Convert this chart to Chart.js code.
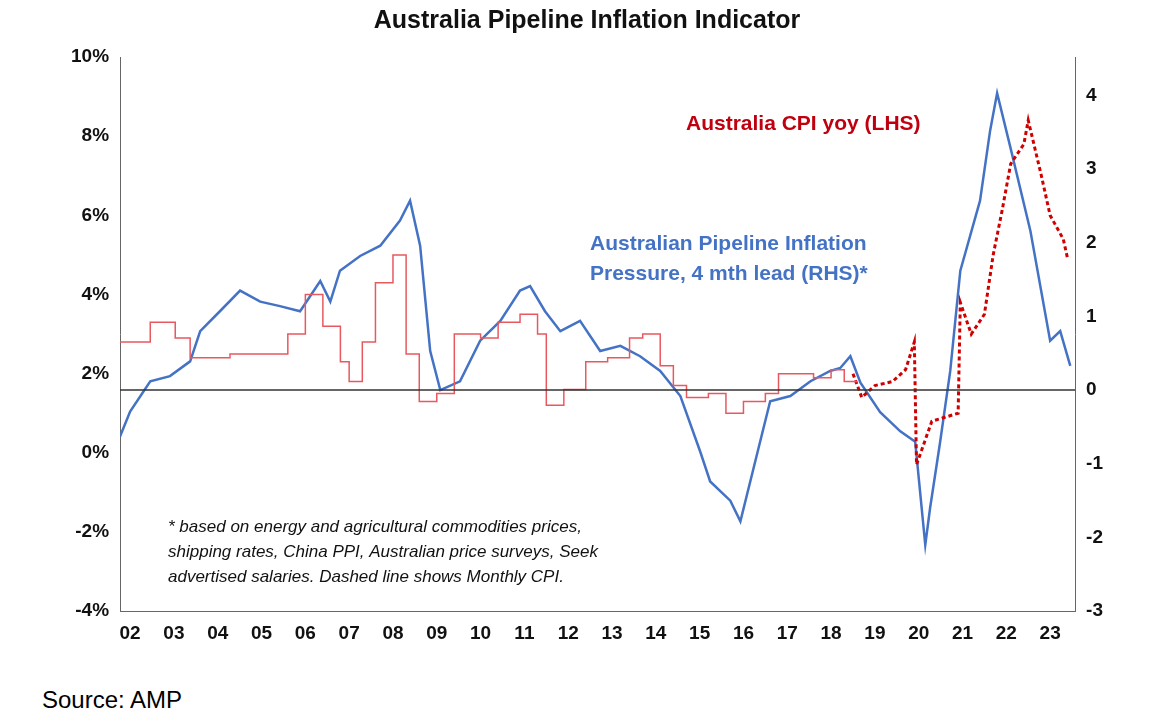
<!DOCTYPE html>
<html><head><meta charset="utf-8">
<script src="https://cdn.jsdelivr.net/npm/chart.js@4"></script>
<style>body{margin:0;background:#fff;font-family:Arial,"Liberation Sans",sans-serif}
#wrap{position:relative;width:1163px;height:728px}
#src{position:absolute;left:42px;top:686px;font-size:24px}</style></head>
<body><div id="wrap"><canvas id="c" width="1163" height="680"></canvas><div id="src">Source: AMP</div></div>
<script>
// Pipeline pressure (RHS), [year, value]
const pipeYears = [2001.77,2002.0,2002.46,2002.91,2003.37,2003.6,2004.05,2004.51,2004.97,2005.42,2005.88,2006.34,2006.57,2006.79,2007.25,2007.71,2008.16,2008.39,2008.62,2008.85,2009.08,2009.53,2009.99,2010.45,2010.9,2011.13,2011.47,2011.82,2012.27,2012.73,2013.19,2013.64,2014.1,2014.56,2015.01,2015.24,2015.7,2015.93,2016.38,2016.61,2017.07,2017.53,2017.98,2018.21,2018.44,2018.67,2019.12,2019.58,2019.92,2020.15,2020.26,2020.49,2020.72,2020.95,2021.4,2021.63,2021.79,2022.09,2022.55,2023.0,2023.23,2023.46];
const pipeValues = [-0.63,-0.29,0.12,0.19,0.39,0.8,1.07,1.35,1.2,1.14,1.07,1.48,1.2,1.62,1.82,1.96,2.3,2.57,1.96,0.53,0.0,0.12,0.67,0.94,1.35,1.41,1.07,0.8,0.94,0.53,0.6,0.46,0.26,-0.08,-0.83,-1.24,-1.5,-1.78,-0.7,-0.15,-0.08,0.12,0.26,0.3,0.46,0.1,-0.3,-0.56,-0.7,-2.1,-1.6,-0.7,0.26,1.62,2.57,3.52,4.03,3.3,2.16,0.67,0.8,0.33];
// Quarterly CPI yoy (LHS), step line
const cpiYears = [2001.77,2002.46,2003.03,2003.37,2004.28,2005.6,2006.0,2006.4,2006.8,2007.0,2007.3,2007.6,2008.0,2008.3,2008.6,2009.0,2009.4,2010.0,2010.4,2010.9,2011.3,2011.5,2011.9,2012.4,2012.9,2013.4,2013.7,2014.1,2014.4,2014.7,2015.2,2015.6,2016.0,2016.5,2016.8,2017.6,2018.0,2018.3,2018.6];
const cpiValues = [2.8,3.3,2.9,2.4,2.5,3.0,4.0,3.2,2.3,1.8,2.8,4.3,5.0,2.5,1.3,1.5,3.0,2.9,3.3,3.5,3.0,1.2,1.6,2.3,2.4,2.9,3.0,2.2,1.7,1.4,1.5,1.0,1.3,1.5,2.0,1.9,2.1,1.8,1.8];
// Monthly CPI (dashed)
const mcpiYears = [2018.5,2018.7,2019.0,2019.4,2019.7,2019.9,2019.95,2020.3,2020.6,2020.9,2020.95,2021.2,2021.5,2021.7,2021.9,2022.1,2022.4,2022.5,2022.8,2023.0,2023.3,2023.4];
const mcpiValues = [2.0,1.4,1.7,1.8,2.1,2.8,-0.3,0.8,0.9,1.0,3.8,3.0,3.5,5.0,6.1,7.3,7.8,8.4,7.0,6.0,5.4,4.9];
const yearLabels = ['02','03','04','05','06','07','08','09','10','11','12','13','14','15','16','17','18','19','20','21','22','23'];

const pts = (xs, ys) => xs.map((x, i) => ({x: x, y: ys[i]}));
const F = 'Arial, "Liberation Sans", sans-serif';

const notes = {
  id: 'notes',
  afterDraw(ch) {
    const c = ch.ctx, y0 = ch.scales.y2.getPixelForValue(0);
    c.save();
    c.strokeStyle = '#333'; c.lineWidth = 1.5;
    c.beginPath(); c.moveTo(ch.chartArea.left, y0); c.lineTo(ch.chartArea.right, y0); c.stroke();
    c.font = 'bold 21px ' + F; c.fillStyle = '#c0000f';
    c.fillText('Australia CPI yoy (LHS)', 686, 130);
    c.fillStyle = '#4472c4';
    c.fillText('Australian Pipeline Inflation', 590, 250);
    c.fillText('Pressure, 4 mth lead (RHS)*', 590, 280);
    c.font = 'italic 17px ' + F; c.fillStyle = '#111';
    c.fillText('* based on energy and agricultural commodities prices,', 168, 532);
    c.fillText('shipping rates, China PPI, Australian price surveys, Seek', 168, 557);
    c.fillText('advertised salaries. Dashed line shows Monthly CPI.', 168, 582);
    c.restore();
  }
};

new Chart(document.getElementById('c'), {
  type: 'line',
  data: {datasets: [
    {data: pts(cpiYears, cpiValues), yAxisID: 'y', stepped: true, borderColor: '#e8595f', borderWidth: 1.5, pointRadius: 0},
    {data: pts(mcpiYears, mcpiValues), yAxisID: 'y', borderColor: '#d00000', borderWidth: 3, borderDash: [4, 3], pointRadius: 0},
    {data: pts(pipeYears, pipeValues), yAxisID: 'y2', borderColor: '#4472c4', borderWidth: 2.5, pointRadius: 0}
  ]},
  options: {
    responsive: false, animation: false,
    layout: {padding: {left: 68, right: 57, top: 0, bottom: 32}},
    plugins: {legend: {display: false}, tooltip: {enabled: false},
      title: {display: true, text: 'Australia Pipeline Inflation Indicator', color: '#111', font: {family: F, size: 25, weight: 'bold'}, padding: {top: 6, bottom: 21}}},
    scales: {
      x: {type: 'linear', min: 2001.77, max: 2023.57, grid: {display: false}, border: {color: '#666'},
        afterBuildTicks: a => { a.ticks = yearLabels.map((l, i) => ({value: 2002 + i})); },
        ticks: {callback: v => yearLabels[Math.round(v) - 2002], color: '#111', font: {family: F, size: 19, weight: 'bold'}, maxRotation: 0, autoSkip: false}},
      y: {position: 'left', min: -4, max: 10, grid: {display: false}, border: {color: '#666'},
        ticks: {stepSize: 2, callback: v => v + '%', color: '#111', font: {family: F, size: 19, weight: 'bold'}}},
      y2: {position: 'right', min: -3, max: 4.52, grid: {display: false}, border: {color: '#666'},
        afterBuildTicks: a => { a.ticks = [-3,-2,-1,0,1,2,3,4].map(v => ({value: v})); },
        ticks: {color: '#111', font: {family: F, size: 19, weight: 'bold'}}}
    }
  },
  plugins: [notes]
});
</script></body></html>
